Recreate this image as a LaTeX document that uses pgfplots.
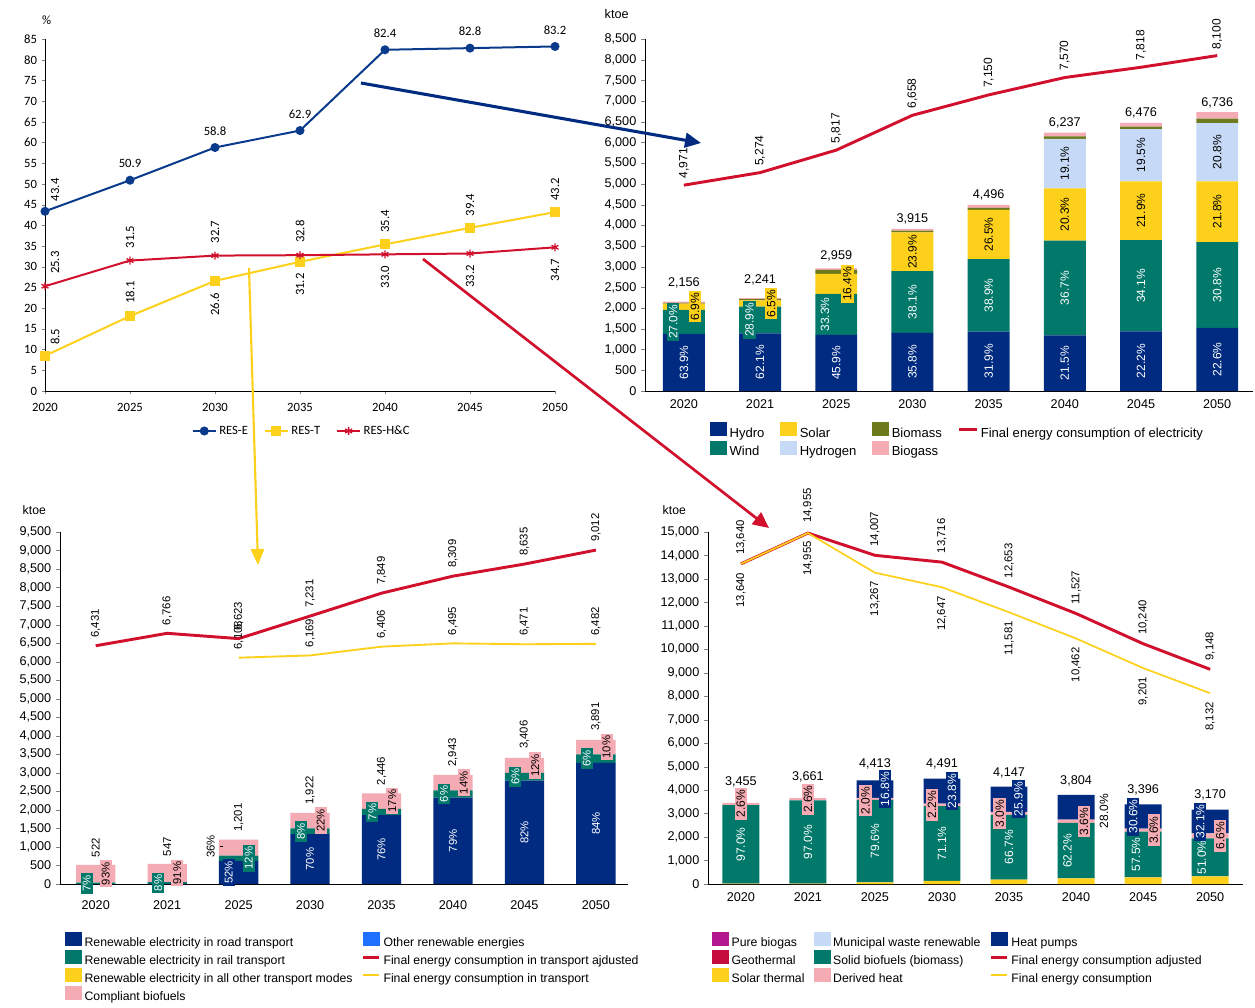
\documentclass[border=0pt]{standalone}
\usepackage{pgfplots}
\pgfplotsset{compat=1.18}
\usepackage{fontspec}
\setmainfont{Liberation Sans}
\newfontfamily\calibri{Carlito}
\usetikzlibrary{arrows.meta}
\definecolor{cnavy}{HTML}{002B80}
\definecolor{cteal}{HTML}{00786A}
\definecolor{cyel}{HTML}{FDD11B}
\definecolor{clblue}{HTML}{C6DAF8}
\definecolor{colive}{HTML}{6E7B1C}
\definecolor{cpink}{HTML}{F4ABB3}
\definecolor{cred}{HTML}{D0102C}
\definecolor{cblue}{HTML}{0A3A8C}
\definecolor{cbright}{HTML}{2070FF}
\definecolor{cmag}{HTML}{B4168F}
\definecolor{cgeo}{HTML}{C40D3C}
\newcommand\fs{\fontsize{9.5}{11}\selectfont}
\newcommand\ft{\fontsize{9.8}{11}\selectfont}
\newcommand\fl{\fontsize{9}{10}\selectfont}
\newcommand\fb{\fontsize{8.5}{10}\selectfont}
\newcommand\fg{\fontsize{9.2}{10}\selectfont}
\newcommand\fc{\calibri\fontsize{9.5}{11}\selectfont}
\tikzset{
  ra/.style={rotate=90, anchor=west, inner sep=1pt},
  rb/.style={rotate=90, anchor=east, inner sep=1pt},
  pc/.style={rotate=90, anchor=center, inner sep=1.5pt},
}
\pgfplotsset{
  bl/.style={legend image code/.code={\fill[##1] (0pt,-2.2pt) rectangle (12.5pt,8.4pt);}},
  barax/.style={scale only axis, anchor=south west, clip=false, ybar stacked, bar width=0.55,
    axis lines=left, axis line style={-, line width=0.6pt},
    ymin=0, enlargelimits=false, xtick={0,...,7},
    xticklabels={2020,2021,2025,2030,2035,2040,2045,2050},
    x tick style={draw=none}, tick align=outside, major tick length=3pt,
    scaled y ticks=false, /pgf/number format/assume math mode=true,
    tick label style={font=\fs},
    legend cell align=left, transpose legend},
  linax/.style={scale only axis, anchor=south west, clip=false, axis lines=none,
    ymin=0, enlargelimits=false, xtick=\empty, ytick=\empty},
}
\begin{document}
\begin{tikzpicture}
\path[use as bounding box] (0,0) rectangle (941.25pt,-755.25pt);

% ---------------- top-left: shares ----------------
\begin{axis}[scale only axis, anchor=south west, at={(33.75pt,-293.25pt)}, width=382.5pt, height=264pt, clip=false,
  xmin=2020, xmax=2050, ymin=0, ymax=85, enlargelimits=false,
  axis lines=left, axis line style={-, line width=0.6pt},
  xtick={2020,2025,...,2050}, ytick={0,5,...,85},
  tick align=outside, major tick length=2.5pt,
  /pgf/number format/assume math mode=true,
  xticklabel style={/pgf/number format/1000 sep={}, yshift=-3pt},
  tick label style={font=\fc},
  legend columns=3,
  legend style={at={(0.504,-0.1136)}, anchor=center, draw=none, fill=none, font=\fc,
    /tikz/every even column/.append style={column sep=10pt}},
]
\addplot[cblue, line width=1.5pt, mark=*, mark size=2.6pt] coordinates {(2020,43.4) (2025,50.9) (2030,58.8) (2035,62.9) (2040,82.4) (2045,82.8) (2050,83.2)};
\addlegendentry{RES-E}
\addplot[cyel, line width=1.5pt, mark=square*, mark size=3pt] coordinates {(2020,8.5) (2025,18.1) (2030,26.6) (2035,31.2) (2040,35.4) (2045,39.4) (2050,43.2)};
\addlegendentry{RES-T}
\addplot[cred, line width=1.5pt, mark=asterisk, mark size=3pt, mark options={line width=1pt}] coordinates {(2020,25.3) (2025,31.5) (2030,32.7) (2035,32.8) (2040,33.0) (2045,33.2) (2050,34.7)};
\addlegendentry{RES-H\&C}
\node[font=\fc, xshift=7.5pt, yshift=6.5pt, ra] at (axis cs:2020,43.4) {43.4};
\node[font=\fc, anchor=south, inner sep=1pt, yshift=8pt] at (axis cs:2025,50.9) {50.9};
\node[font=\fc, anchor=south, inner sep=1pt, yshift=8pt] at (axis cs:2030,58.8) {58.8};
\node[font=\fc, anchor=south, inner sep=1pt, yshift=8pt] at (axis cs:2035,62.9) {62.9};
\node[font=\fc, anchor=south, inner sep=1pt, yshift=8pt] at (axis cs:2040,82.4) {82.4};
\node[font=\fc, anchor=south, inner sep=1pt, yshift=8pt] at (axis cs:2045,82.8) {82.8};
\node[font=\fc, anchor=south, inner sep=1pt, yshift=8pt] at (axis cs:2050,83.2) {83.2};
\node[font=\fc, xshift=7.5pt, yshift=7pt, ra] at (axis cs:2020,8.5) {8.5};
\node[font=\fc, yshift=8pt, ra] at (axis cs:2025,18.1) {18.1};
\node[font=\fc, yshift=-8pt, rb] at (axis cs:2030,26.6) {26.6};
\node[font=\fc, yshift=-7.5pt, rb] at (axis cs:2035,31.2) {31.2};
\node[font=\fc, yshift=7.5pt, ra] at (axis cs:2040,35.4) {35.4};
\node[font=\fc, yshift=7.5pt, ra] at (axis cs:2045,39.4) {39.4};
\node[font=\fc, yshift=7.5pt, ra] at (axis cs:2050,43.2) {43.2};
\node[font=\fc, xshift=7.5pt, yshift=8pt, ra] at (axis cs:2020,25.3) {25.3};
\node[font=\fc, yshift=8pt, ra] at (axis cs:2025,31.5) {31.5};
\node[font=\fc, yshift=8pt, ra] at (axis cs:2030,32.7) {32.7};
\node[font=\fc, yshift=8pt, ra] at (axis cs:2035,32.8) {32.8};
\node[font=\fc, yshift=-7.5pt, rb] at (axis cs:2040,33.0) {33.0};
\node[font=\fc, yshift=-7.5pt, rb] at (axis cs:2045,33.2) {33.2};
\node[font=\fc, yshift=-7.5pt, rb] at (axis cs:2050,34.7) {34.7};
\end{axis}
\node[font=\fc, anchor=west] at (28pt,-15pt) {\%};

% ---------------- top-right: electricity ----------------
\begin{axis}[barax, at={(483.75pt,-293.25pt)}, width=456pt, height=264pt,
  xmin=-0.51, xmax=7.47, ymax=8500, ytick={0,500,...,8500},
  legend columns=2,
  legend style={at={(0.1003,-0.08)}, anchor=north west, draw=none, fill=none, font=\ft,
    row sep=-0.5pt, /tikz/every even column/.append style={column sep=10pt}}]
\addplot[bl, fill=cnavy, draw=none] coordinates {(0,1378) (1,1392) (2,1358) (3,1402) (4,1434) (5,1341) (6,1438) (7,1522)};
\addlegendentry{Hydro}
\addplot[bl, fill=cteal, draw=none] coordinates {(0,582) (1,648) (2,985) (3,1492) (4,1749) (5,2289) (6,2208) (7,2075)};
\addlegendentry{Wind}
\addplot[bl, fill=cyel, draw=none] coordinates {(0,149) (1,146) (2,485) (3,936) (4,1191) (5,1266) (6,1418) (7,1468)};
\addlegendentry{Solar}
\addplot[bl, fill=clblue, draw=none] coordinates {(0,0) (1,0) (2,0) (3,0) (4,0) (5,1191) (6,1263) (7,1401)};
\addlegendentry{Hydrogen}
\addplot[bl, fill=colive, draw=none] coordinates {(0,17) (1,30) (2,95) (3,40) (4,50) (5,60) (6,55) (7,110)};
\addlegendentry{Biomass}
\addplot[bl, fill=cpink, draw=none] coordinates {(0,30) (1,25) (2,36) (3,45) (4,72) (5,90) (6,94) (7,160)};
\addlegendentry{Biogass}
\addlegendimage{legend image code/.code={\draw[cred, line width=2.2pt] (0pt,3.1pt) -- (13pt,3.1pt);}}
\addlegendentry{Final energy consumption of electricity}
\end{axis}
\begin{axis}[linax, at={(483.75pt,-293.25pt)}, width=456pt, height=264pt, xmin=-0.51, xmax=7.47, ymax=8500]
\addplot[cred, line width=2.2pt] coordinates {(0,4971) (1,5274) (2,5817) (3,6658) (4,7150) (5,7570) (6,7818) (7,8100)};
\node[font=\fl, yshift=4pt, ra] at (axis cs:0,4971) {4,971};
\node[font=\fl, yshift=4pt, ra] at (axis cs:1,5274) {5,274};
\node[font=\fl, yshift=4pt, ra] at (axis cs:2,5817) {5,817};
\node[font=\fl, yshift=4pt, ra] at (axis cs:3,6658) {6,658};
\node[font=\fl, yshift=4pt, ra] at (axis cs:4,7150) {7,150};
\node[font=\fl, yshift=4pt, ra] at (axis cs:5,7570) {7,570};
\node[font=\fl, yshift=4pt, ra] at (axis cs:6,7818) {7,818};
\node[font=\fl, yshift=3.5pt, ra] at (axis cs:7,8100) {8,100};
% totals
\node[font=\fs, anchor=south, inner sep=1pt, yshift=9.3pt] at (axis cs:0,2156) {2,156};
\node[font=\fs, anchor=south, inner sep=1pt, yshift=8.7pt] at (axis cs:1,2241) {2,241};
\node[font=\fs, anchor=south, inner sep=1pt, yshift=4pt] at (axis cs:2,2959) {2,959};
\node[font=\fs, anchor=south, inner sep=1pt, yshift=2pt] at (axis cs:3,3915) {3,915};
\node[font=\fs, anchor=south, inner sep=1pt, yshift=2pt] at (axis cs:4,4496) {4,496};
\node[font=\fs, anchor=south, inner sep=1pt, yshift=2pt] at (axis cs:5,6237) {6,237};
\node[font=\fs, anchor=south, inner sep=1pt, yshift=2pt] at (axis cs:6,6476) {6,476};
\node[font=\fs, anchor=south, inner sep=1pt, yshift=2pt] at (axis cs:7,6736) {6,736};
% hydro
\node[pc, font=\fl, text=white] at (axis cs:0,689) {63.9\%};
\node[pc, font=\fl, text=white] at (axis cs:1,696) {62.1\%};
\node[pc, font=\fl, text=white] at (axis cs:2,679) {45.9\%};
\node[pc, font=\fl, text=white] at (axis cs:3,701) {35.8\%};
\node[pc, font=\fl, text=white] at (axis cs:4,717) {31.9\%};
\node[pc, font=\fl, text=white] at (axis cs:5,670) {21.5\%};
\node[pc, font=\fl, text=white] at (axis cs:6,719) {22.2\%};
\node[pc, font=\fl, text=white] at (axis cs:7,761) {22.6\%};
% wind
\node[font=\fl, xshift=-8pt, pc, fill=cteal, text=white] at (axis cs:0,1669) {27.0\%};
\node[font=\fl, xshift=-8pt, pc, fill=cteal, text=white] at (axis cs:1,1716) {28.9\%};
\node[font=\fl, xshift=-8.5pt, pc, text=white] at (axis cs:2,1850) {33.3\%};
\node[pc, font=\fl, text=white] at (axis cs:3,2148) {38.1\%};
\node[pc, font=\fl, text=white] at (axis cs:4,2308) {38.9\%};
\node[pc, font=\fl, text=white] at (axis cs:5,2485) {36.7\%};
\node[pc, font=\fl, text=white] at (axis cs:6,2542) {34.1\%};
\node[pc, font=\fl, text=white] at (axis cs:7,2560) {30.8\%};
% solar
\node[font=\fl, xshift=8.3pt, pc, fill=cyel] at (axis cs:0,2034) {6.9\%};
\node[font=\fl, xshift=8.3pt, pc, fill=cyel] at (axis cs:1,2113) {6.5\%};
\node[font=\fl, xshift=8.3pt, pc, fill=cyel] at (axis cs:2,2585) {16.4\%};
\node[pc, font=\fl] at (axis cs:3,3362) {23.9\%};
\node[pc, font=\fl] at (axis cs:4,3778) {26.5\%};
\node[pc, font=\fl] at (axis cs:5,4263) {20.3\%};
\node[pc, font=\fl] at (axis cs:6,4355) {21.9\%};
\node[pc, font=\fl] at (axis cs:7,4331) {21.8\%};
% hydrogen
\node[pc, font=\fl] at (axis cs:5,5491) {19.1\%};
\node[pc, font=\fl] at (axis cs:6,5695) {19.5\%};
\node[pc, font=\fl] at (axis cs:7,5765) {20.8\%};
\end{axis}
\node[font=\fs, anchor=west] at (450pt,-10.5pt) {ktoe};

% ---------------- bottom-left: transport ----------------
\begin{axis}[barax, at={(45pt,-663pt)}, width=426pt, height=264pt,
  xmin=-0.5, xmax=7.45, ymax=9500, ytick={0,500,...,9500},
  xticklabel style={yshift=-6pt},
  legend columns=4,
  legend style={at={(0.0018,-0.128)}, anchor=north west, draw=none, fill=none, font=\fg,
    row sep=-1pt, /tikz/every even column/.append style={column sep=5pt}}]
\addplot[bl, fill=cnavy, draw=none] coordinates {(0,0) (1,5) (2,624) (3,1345) (4,1859) (5,2335) (6,2793) (7,3268)};
\addlegendentry{Renewable electricity in road transport}
\addplot[bl, fill=cteal, draw=none] coordinates {(0,37) (1,44) (2,144) (3,154) (4,171) (5,190) (6,204) (7,233)};
\addlegendentry{Renewable electricity in rail transport}
\addplot[bl, fill=cyel, draw=none] coordinates {(0,0) (1,0) (2,0) (3,0) (4,0) (5,0) (6,0) (7,0)};
\addlegendentry{Renewable electricity in all other transport modes}
\addplot[bl, fill=cpink, draw=none] coordinates {(0,477) (1,498) (2,433) (3,423) (4,416) (5,418) (6,409) (7,390)};
\addlegendentry{Compliant biofuels}
\addplot[bl, fill=cbright, draw=none] coordinates {(0,8) (1,0) (2,0) (3,0) (4,0) (5,0) (6,0) (7,0)};
\addlegendentry{Other renewable energies}
\addlegendimage{legend image code/.code={\draw[cred, line width=2.2pt] (0pt,3.1pt) -- (12pt,3.1pt);}}
\addlegendentry{Final energy consumption in transport ajdusted}
\addlegendimage{legend image code/.code={\draw[cyel, line width=1.5pt] (0pt,3.1pt) -- (12pt,3.1pt);}}
\addlegendentry{Final energy consumption in transport}
\end{axis}
\begin{axis}[linax, at={(45pt,-663pt)}, width=426pt, height=264pt, xmin=-0.5, xmax=7.45, ymax=9500]
\addplot[cred, line width=2.2pt] coordinates {(0,6431) (1,6766) (2,6623) (3,7231) (4,7849) (5,8309) (6,8635) (7,9012)};
\addplot[cyel, line width=1.4pt] coordinates {(2,6108) (3,6169) (4,6406) (5,6495) (6,6471) (7,6482)};
\node[font=\fb, yshift=5pt, ra] at (axis cs:0,6431) {6,431};
\node[font=\fb, yshift=5pt, ra] at (axis cs:1,6766) {6,766};
\node[font=\fb, yshift=5pt, ra] at (axis cs:2,6623) {6,623};
\node[font=\fb, yshift=5pt, ra] at (axis cs:3,7231) {7,231};
\node[font=\fb, yshift=5pt, ra] at (axis cs:4,7849) {7,849};
\node[font=\fb, yshift=5pt, ra] at (axis cs:5,8309) {8,309};
\node[font=\fb, yshift=5pt, ra] at (axis cs:6,8635) {8,635};
\node[font=\fb, yshift=5pt, ra] at (axis cs:7,9012) {9,012};
\node[font=\fb, yshift=5pt, ra] at (axis cs:2,6108) {6,108};
\node[font=\fb, yshift=5pt, ra] at (axis cs:3,6169) {6,169};
\node[font=\fb, yshift=5pt, ra] at (axis cs:4,6406) {6,406};
\node[font=\fb, yshift=5pt, ra] at (axis cs:5,6495) {6,495};
\node[font=\fb, yshift=5pt, ra] at (axis cs:6,6471) {6,471};
\node[font=\fb, yshift=5pt, ra] at (axis cs:7,6482) {6,482};
% totals
\node[font=\fb, yshift=4.5pt, ra] at (axis cs:0,522) {522};
\node[font=\fb, yshift=4.5pt, ra] at (axis cs:1,547) {547};
\node[font=\fb, yshift=4.5pt, ra] at (axis cs:2,1201) {1,201};
\node[font=\fb, yshift=5pt, ra] at (axis cs:3,1922) {1,922};
\node[font=\fb, yshift=5pt, ra] at (axis cs:4,2446) {2,446};
\node[font=\fb, yshift=5pt, ra] at (axis cs:5,2943) {2,943};
\node[font=\fb, yshift=5.5pt, ra] at (axis cs:6,3406) {3,406};
\node[font=\fb, yshift=5.5pt, ra] at (axis cs:7,3891) {3,891};
% road
\node[font=\fb, xshift=-7.5pt, pc, fill=cnavy, text=white] at (axis cs:2,312) {52\%};
\node[pc, font=\fb, text=white] at (axis cs:3,672) {70\%};
\node[pc, font=\fb, text=white] at (axis cs:4,929) {76\%};
\node[pc, font=\fb, text=white] at (axis cs:5,1167) {79\%};
\node[pc, font=\fb, text=white] at (axis cs:6,1396) {82\%};
\node[pc, font=\fb, text=white] at (axis cs:7,1634) {84\%};
% rail
\node[font=\fb, xshift=-6.8pt, pc, fill=cteal, text=white] at (axis cs:0,18) {7\%};
\node[font=\fb, xshift=-6.8pt, pc, fill=cteal, text=white] at (axis cs:1,27) {8\%};
\node[font=\fb, xshift=7.5pt, pc, fill=cteal, text=white] at (axis cs:2,696) {12\%};
\node[font=\fb, xshift=-6.8pt, pc, fill=cteal, text=white] at (axis cs:3,1422) {8\%};
\node[font=\fb, xshift=-6.8pt, pc, fill=cteal, text=white] at (axis cs:4,1944) {7\%};
\node[font=\fb, xshift=-6.8pt, pc, fill=cteal, text=white] at (axis cs:5,2430) {6\%};
\node[font=\fb, xshift=-6.8pt, pc, fill=cteal, text=white] at (axis cs:6,2895) {6\%};
\node[font=\fb, xshift=-6.8pt, pc, fill=cteal, text=white] at (axis cs:7,3384) {6\%};
% biofuels
\node[font=\fb, xshift=7.5pt, pc, fill=cpink] at (axis cs:0,275) {93\%};
\node[font=\fb, xshift=7.5pt, pc, fill=cpink] at (axis cs:1,298) {91\%};
\node[font=\fb, xshift=-21pt, pc] at (axis cs:2,1010) {36\%};
\draw[line width=0.6pt] ([xshift=-14pt]axis cs:2,1010) -- ([xshift=-11.5pt]axis cs:2,1010);
\node[font=\fb, xshift=8pt, pc, fill=cpink] at (axis cs:3,1710) {22\%};
\node[font=\fb, xshift=8pt, pc, fill=cpink] at (axis cs:4,2238) {17\%};
\node[font=\fb, xshift=8pt, pc, fill=cpink] at (axis cs:5,2734) {14\%};
\node[font=\fb, xshift=8pt, pc, fill=cpink] at (axis cs:6,3201) {12\%};
\node[font=\fb, xshift=8pt, pc, fill=cpink] at (axis cs:7,3696) {10\%};
\end{axis}
\node[font=\fg, anchor=west] at (13.5pt,-382.5pt) {ktoe};

% ---------------- bottom-right: heating & cooling ----------------
\begin{axis}[barax, at={(531pt,-663pt)}, width=401.25pt, height=264pt,
  xmin=-0.49, xmax=7.49, ymax=15000, ytick={0,1000,...,15000},
  legend columns=3,
  legend style={at={(0,-0.128)}, anchor=north west, draw=none, fill=none, font=\fg,
    row sep=-1pt, /tikz/every even column/.append style={column sep=5pt}}]
\addplot[bl, fill=cmag, draw=none] coordinates {(0,0) (1,0) (2,0) (3,0) (4,0) (5,0) (6,0) (7,0)};
\addlegendentry{Pure biogas}
\addplot[bl, fill=cgeo, draw=none] coordinates {(0,0) (1,0) (2,0) (3,0) (4,0) (5,0) (6,0) (7,0)};
\addlegendentry{Geothermal}
\addplot[bl, fill=cyel, draw=none] coordinates {(0,14) (1,15) (2,71) (3,130) (4,183) (5,236) (6,282) (7,327)};
\addlegendentry{Solar thermal}
\addplot[bl, fill=clblue, draw=none] coordinates {(0,0) (1,0) (2,0) (3,0) (4,0) (5,0) (6,0) (7,0)};
\addlegendentry{Municipal waste renewable}
\addplot[bl, fill=cteal, draw=none] coordinates {(0,3351) (1,3551) (2,3513) (3,3193) (4,2766) (5,2366) (6,1953) (7,1617)};
\addlegendentry{Solid biofuels (biomass)}
\addplot[bl, fill=cpink, draw=none] coordinates {(0,90) (1,95) (2,88) (3,99) (4,124) (5,137) (6,122) (7,209)};
\addlegendentry{Derived heat}
\addplot[bl, fill=cnavy, draw=none] coordinates {(0,0) (1,0) (2,741) (3,1069) (4,1074) (5,1065) (6,1039) (7,1017)};
\addlegendentry{Heat pumps}
\addlegendimage{legend image code/.code={\draw[cred, line width=2.2pt] (0pt,3.1pt) -- (12pt,3.1pt);}}
\addlegendentry{Final energy consumption adjusted}
\addlegendimage{legend image code/.code={\draw[cyel, line width=1.5pt] (0pt,3.1pt) -- (12pt,3.1pt);}}
\addlegendentry{Final energy consumption}
\end{axis}
\begin{axis}[linax, at={(531pt,-663pt)}, width=401.25pt, height=264pt, xmin=-0.49, xmax=7.49, ymax=15000]
\addplot[cred, line width=2.2pt] coordinates {(0,13640) (1,14955) (2,14007) (3,13716) (4,12653) (5,11527) (6,10240) (7,9148)};
\addplot[cyel, line width=1.3pt] coordinates {(0,13640) (1,14955) (2,13267) (3,12647) (4,11581) (5,10462) (6,9201) (7,8132)};
\node[font=\fb, yshift=5.5pt, ra] at (axis cs:0,13640) {13,640};
\node[font=\fb, yshift=6.5pt, ra] at (axis cs:1,14955) {14,955};
\node[font=\fb, yshift=5.5pt, ra] at (axis cs:2,14007) {14,007};
\node[font=\fb, yshift=5.5pt, ra] at (axis cs:3,13716) {13,716};
\node[font=\fb, yshift=5.5pt, ra] at (axis cs:4,12653) {12,653};
\node[font=\fb, yshift=5.5pt, ra] at (axis cs:5,11527) {11,527};
\node[font=\fb, yshift=5.5pt, ra] at (axis cs:6,10240) {10,240};
\node[font=\fb, yshift=5.5pt, ra] at (axis cs:7,9148) {9,148};
\node[font=\fb, yshift=-5.5pt, rb] at (axis cs:0,13640) {13,640};
\node[font=\fb, yshift=-5pt, rb] at (axis cs:1,14955) {14,955};
\node[font=\fb, yshift=-5.5pt, rb] at (axis cs:2,13267) {13,267};
\node[font=\fb, yshift=-5.5pt, rb] at (axis cs:3,12647) {12,647};
\node[font=\fb, yshift=-5.5pt, rb] at (axis cs:4,11581) {11,581};
\node[font=\fb, yshift=-5.5pt, rb] at (axis cs:5,10462) {10,462};
\node[font=\fb, yshift=-5.5pt, rb] at (axis cs:6,9201) {9,201};
\node[font=\fb, yshift=-5.5pt, rb] at (axis cs:7,8132) {8,132};
% totals
\node[font=\fs, anchor=south, inner sep=1pt, yshift=10.5pt] at (axis cs:0,3455) {3,455};
\node[font=\fs, anchor=south, inner sep=1pt, yshift=10.5pt] at (axis cs:1,3661) {3,661};
\node[font=\fs, anchor=south, inner sep=1pt, yshift=7pt] at (axis cs:2,4413) {4,413};
\node[font=\fs, anchor=south, inner sep=1pt, yshift=6pt] at (axis cs:3,4491) {4,491};
\node[font=\fs, anchor=south, inner sep=1pt, yshift=5.5pt] at (axis cs:4,4147) {4,147};
\node[font=\fs, anchor=south, inner sep=1pt, yshift=5pt] at (axis cs:5,3804) {3,804};
\node[font=\fs, anchor=south, inner sep=1pt, yshift=5.5pt] at (axis cs:6,3396) {3,396};
\node[font=\fs, anchor=south, inner sep=1pt, yshift=6pt] at (axis cs:7,3170) {3,170};
% solid biofuels
\node[pc, font=\fl, text=white] at (axis cs:0,1689) {97.0\%};
\node[pc, font=\fl, text=white] at (axis cs:1,1790) {97.0\%};
\node[pc, font=\fl, text=white] at (axis cs:2,1827) {79.6\%};
\node[pc, font=\fl, text=white] at (axis cs:3,1726) {71.1\%};
\node[pc, font=\fl, text=white] at (axis cs:4,1566) {66.7\%};
\node[font=\fl, xshift=-6.4pt, pc, text=white] at (axis cs:5,1419) {62.2\%};
\node[font=\fl, xshift=-5.3pt, pc, text=white] at (axis cs:6,1258) {57.5\%};
\node[font=\fl, xshift=-6.4pt, pc, text=white] at (axis cs:7,1135) {51.0\%};
% derived heat
\node[pc, font=\fl, fill=cpink] at (axis cs:0,3410) {2.6\%};
\node[pc, font=\fl, fill=cpink] at (axis cs:1,3613) {2.6\%};
\node[font=\fl, xshift=-7pt, pc, fill=cpink] at (axis cs:2,3560) {2.0\%};
\node[font=\fl, xshift=-7.5pt, pc, fill=cpink] at (axis cs:3,3372) {2.2\%};
\node[font=\fl, xshift=-7pt, pc, fill=cpink] at (axis cs:4,3011) {3.0\%};
\node[font=\fl, xshift=6pt, pc, fill=cpink] at (axis cs:5,2670) {3.6\%};
\node[font=\fl, xshift=8pt, pc, fill=cpink] at (axis cs:6,2296) {3.6\%};
\node[font=\fl, xshift=7.5pt, pc, fill=cpink] at (axis cs:7,2048) {6.6\%};
% heat pumps
\node[font=\fl, xshift=7.5pt, pc, fill=cnavy, text=white] at (axis cs:2,4042) {16.8\%};
\node[font=\fl, xshift=7.5pt, pc, fill=cnavy, text=white] at (axis cs:3,3956) {23.8\%};
\node[font=\fl, xshift=7pt, pc, fill=cnavy, text=white] at (axis cs:4,3610) {25.9\%};
\node[font=\fl, xshift=21pt, pc] at (axis cs:5,3100) {28.0\%};
\node[font=\fl, xshift=-7.5pt, pc, fill=cnavy, text=white] at (axis cs:6,2876) {30.6\%};
\node[font=\fl, xshift=-7.5pt, pc, fill=cnavy, text=white] at (axis cs:7,2661) {32.1\%};
\end{axis}
\node[font=\fg, anchor=west] at (493.5pt,-382.5pt) {ktoe};

% ---------------- arrows ----------------
\draw[cnavy, line width=2.3pt, -{Triangle[length=12pt,width=11pt]}] (270.75pt,-62.25pt) -- (525.75pt,-107.25pt);
\draw[cyel, line width=1.6pt, -{Triangle[length=12pt,width=10pt]}] (186.75pt,-201pt) -- (193.5pt,-423.75pt);
\draw[cred, line width=2pt, -{Triangle[length=12pt,width=11pt]}] (317.25pt,-194.25pt) -- (576.75pt,-396pt);
\end{tikzpicture}
\end{document}
